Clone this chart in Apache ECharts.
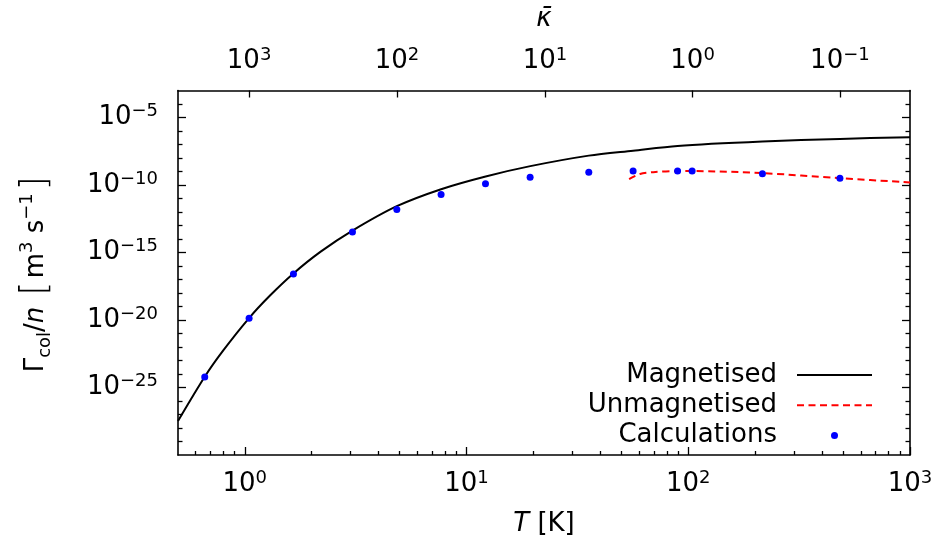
<!DOCTYPE html>
<html>
<head>
<meta charset="utf-8">
<script src="https://cdn.jsdelivr.net/npm/echarts@6/dist/echarts.min.js"></script>
<style>html,body{margin:0;padding:0;background:#fff}#c{width:935px;height:548px}</style>
</head>
<body>
<div id="c"></div>
<script>
// ---- data ----
const magT = [0.5, 0.66, 0.8, 1.046, 1.3, 1.658, 2.2, 3.06, 4.85, 7.68, 12.2, 19.4, 35.6, 56.4, 89.5, 216, 483, 1000];
const magRate = [3.3e-28, 6.3e-25, 5.6e-23, 1.4e-20, 6.5e-19, 2.8e-17, 1.15e-15, 4.2e-14, 2.7e-12, 4.9e-11, 4.3e-10, 2.5e-9, 1.5e-8, 3.5e-8, 7.9e-8, 1.66e-7, 2.6e-7, 3.5e-7];
const unmagT = [54.1, 60.6, 69.5, 89.5, 104, 216, 483, 1000];
const unmagRate = [2.75e-10, 6.5e-10, 8.9e-10, 1.07e-9, 1.07e-9, 7.6e-10, 3.2e-10, 1.55e-10];
const calcT = [0.66, 1.046, 1.658, 3.06, 4.85, 7.68, 12.18, 19.36, 35.6, 56.4, 89.5, 104.1, 216, 483];
const calcRate = [5.9e-25, 1.35e-20, 2.6e-17, 3.3e-14, 1.5e-12, 2.0e-11, 1.23e-10, 3.8e-10, 8.9e-10, 1.07e-9, 1.07e-9, 1.07e-9, 6.8e-10, 3.2e-10];

// ---- axes / ticks ----
const xMin = 0.5, xMax = 1000;
const yMin = 1e-30, yMax = 1e-3;
const xMajorTicks = [1, 10, 100, 1000];
const xMinorTicks = [0.6, 0.7, 0.8, 0.9, 2, 3, 4, 5, 6, 7, 8, 9, 20, 30, 40, 50, 60, 70, 80, 90, 200, 300, 400, 500, 600, 700, 800, 900];
const yMajorExp = [-25, -20, -15, -10, -5];
const yMinorExp = [-29, -28, -27, -26, -24, -23, -22, -21, -19, -18, -17, -16, -14, -13, -12, -11, -9, -8, -7, -6, -4];
const kappaTickT = [1.046, 4.86, 22.6, 104.6, 483];
const kappaExp = [3, 2, 1, 0, -1];
const seriesNames = ['Magnetised', 'Unmagnetised', 'Calculations'];

const FONT = 'DejaVu Sans';
const LOG = Math.log10;
const zip = (a, b) => a.map((v, i) => [v, b[i]]);
const fmtExp = e => (e < 0 ? '\u2212' + Math.abs(e) : String(e));
const sup = e => '{b|10}{s|' + fmtExp(e) + '}';
const rich = {
  b: { fontSize: 26, lineHeight: 30, fontFamily: FONT, color: '#000' },
  s: { fontSize: 18, lineHeight: 18, verticalAlign: 'top', fontFamily: FONT, color: '#000' }
};
const lineSt = { color: '#000', width: 1.6 };
const tickSt = { color: '#000', width: 1.3 };

function tickAxis(pos, min, max, ticks, len, extra) {
  return Object.assign({
    type: 'value', position: pos, min: min, max: max,
    axisLine: { show: false, onZero: false },
    axisTick: { show: true, inside: true, length: len, lineStyle: tickSt, customValues: ticks },
    axisLabel: { show: false },
    splitLine: { show: false }
  }, extra || {});
}

const xl0 = LOG(xMin), xl1 = LOG(xMax), yl0 = LOG(yMin), yl1 = LOG(yMax);
const hiddenSym = { color: 'rgba(0,0,0,0)', borderWidth: 0, opacity: 0 };

const option = {
  animation: false,
  backgroundColor: '#fff',
  grid: { left: 178, right: 25, top: 90.5, bottom: 93, containLabel: false, outerBoundsMode: 'none' },
  legend: {
    data: [
      { name: seriesNames[0], itemStyle: hiddenSym },
      { name: seriesNames[1], itemStyle: hiddenSym },
      { name: seriesNames[2], icon: 'circle' }
    ],
    orient: 'vertical', right: 62, top: 362, align: 'right',
    itemWidth: 75, itemHeight: 7, itemGap: 4.2, padding: 0,
    textStyle: { fontSize: 26, fontFamily: FONT, color: '#000', lineHeight: 26, padding: [0, 15, 0, 0] }
  },
  xAxis: [
    { type: 'log', logBase: 10, min: xMin, max: xMax, show: false },
    tickAxis('bottom', xl0, xl1, xMajorTicks.map(LOG), 8, {
      axisLine: { show: true, onZero: false, lineStyle: lineSt },
      axisLabel: { show: true, customValues: xMajorTicks.map(LOG), margin: 14, formatter: v => sup(Math.round(v)), rich: rich },
      name: '{i|T} [K]', nameLocation: 'middle', nameGap: 56,
      nameTextStyle: { fontSize: 26, fontFamily: FONT, color: '#000',
        rich: { i: { fontStyle: 'italic', fontSize: 26, fontFamily: FONT, color: '#000' } } }
    }),
    tickAxis('bottom', xl0, xl1, xMinorTicks.map(LOG), 4),
    tickAxis('top', xl0, xl1, kappaTickT.map(LOG), 7, {
      axisLine: { show: true, onZero: false, lineStyle: lineSt },
      axisLabel: { show: true, customValues: kappaTickT.map(LOG), margin: 14, rich: rich,
        formatter: v => {
          let best = 0;
          kappaTickT.forEach((t, i) => { if (Math.abs(LOG(t) - v) < Math.abs(LOG(kappaTickT[best]) - v)) best = i; });
          return sup(kappaExp[best]);
        } },
      name: '{i|\u03BA\u0304}', nameLocation: 'middle', nameGap: 58,
      nameTextStyle: { fontSize: 26, fontFamily: FONT, color: '#000',
        rich: { i: { fontStyle: 'italic', fontSize: 26, fontFamily: FONT, color: '#000' } } }
    })
  ],
  yAxis: [
    { type: 'log', logBase: 10, min: yMin, max: yMax, show: false },
    tickAxis('left', yl0, yl1, yMajorExp, 8, {
      axisLine: { show: true, onZero: false, lineStyle: lineSt },
      axisLabel: { show: true, customValues: yMajorExp, margin: 20, formatter: v => sup(Math.round(v)), rich: rich },
      name: '{g|\u0393}{sub|col}{g|/}{i|n}{g| }{br|[}{g|m}{sp|3}{g| s}{sp|\u22121}{br|]}',
      nameLocation: 'middle', nameRotate: 90, nameGap: 124,
      nameTextStyle: { fontSize: 26, fontFamily: FONT, color: '#000',
        rich: {
          g: { fontSize: 26, lineHeight: 36, fontFamily: FONT, color: '#000' },
          i: { fontSize: 26, lineHeight: 36, fontStyle: 'italic', fontFamily: FONT, color: '#000' },
          sub: { fontSize: 18, lineHeight: 22, verticalAlign: 'bottom', fontFamily: FONT, color: '#000' },
          sp: { fontSize: 18, lineHeight: 20, verticalAlign: 'top', fontFamily: FONT, color: '#000' },
          br: { fontSize: 36, lineHeight: 36, fontFamily: FONT, fontWeight: 200, color: '#000', padding: [0, 3, 0, 3] }
        } }
    }),
    tickAxis('left', yl0, yl1, yMinorExp, 4.5),
    tickAxis('right', yl0, yl1, yMajorExp, 8, { axisLine: { show: true, onZero: false, lineStyle: lineSt } }),
    tickAxis('right', yl0, yl1, yMinorExp, 4.5)
  ],
  series: [
    { name: seriesNames[0], type: 'line', xAxisIndex: 0, yAxisIndex: 0, data: zip(magT, magRate),
      smooth: 0.3, symbol: 'none', lineStyle: { color: '#000', width: 2 }, itemStyle: { color: '#000' }, z: 2 },
    { name: seriesNames[1], type: 'line', xAxisIndex: 0, yAxisIndex: 0, data: zip(unmagT, unmagRate),
      smooth: 0.3, symbol: 'none', lineStyle: { color: '#ff0000', width: 2, type: [7, 4.5] }, itemStyle: { color: '#ff0000' }, z: 2 },
    { name: seriesNames[2], type: 'scatter', xAxisIndex: 0, yAxisIndex: 0, data: zip(calcT, calcRate),
      symbol: 'circle', symbolSize: 7, itemStyle: { color: '#0000ff', opacity: 1 }, z: 3 }
  ]
};
const chart = echarts.init(document.getElementById('c'), null, { renderer: 'canvas' });
chart.setOption(option);
</script>
</body>
</html>
